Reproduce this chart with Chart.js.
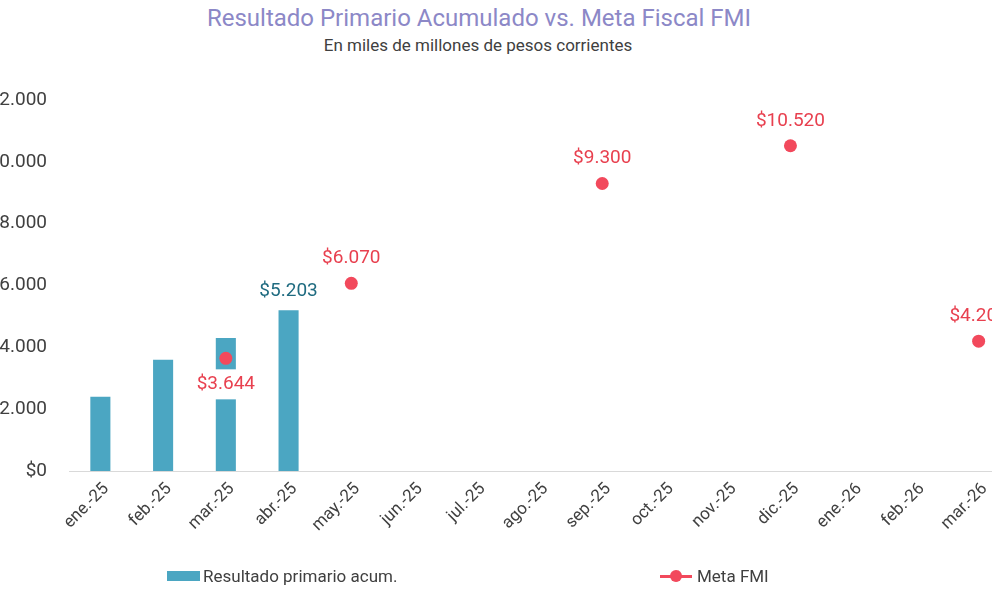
<!DOCTYPE html>
<html>
<head>
<meta charset="utf-8">
<script src="https://cdn.jsdelivr.net/npm/chart.js@4/dist/chart.umd.min.js"></script>
<style>
  body { margin: 0; width: 992px; height: 606px; overflow: hidden; background: #fff; font-family: Roboto, "Noto Sans", sans-serif; position: relative; }
  #title { position: absolute; top: 4px; left: 0; width: 958px; text-align: center; font-size: 24px; color: #8c88c7; }
  #subtitle { position: absolute; top: 35px; left: 0; width: 956px; text-align: center; font-size: 17px; color: #404040; }
  #wrap { position: absolute; left: -40px; top: 0; width: 1070px; height: 606px; }
  .leg { position: absolute; top: 564px; font-size: 17px; color: #404040; white-space: nowrap; }
  .leg span { display: inline-block; vertical-align: middle; }
</style>
</head>
<body>
<div id="title">Resultado Primario Acumulado vs. Meta Fiscal FMI</div>
<div id="subtitle">En miles de millones de pesos corrientes</div>
<div id="wrap"><canvas id="chart" width="1070" height="606"></canvas></div>
<div class="leg" style="left:167px"><span style="width:33px;height:10px;background:#4ba6c2;margin-right:3px"></span><span>Resultado primario acum.</span></div>
<div class="leg" style="left:660px"><span style="position:relative;width:32px;height:12px;margin-right:5px"><span style="position:absolute;left:0;top:5px;width:32px;height:3px;background:#f2495c"></span><span style="position:absolute;left:10px;top:0;width:12px;height:12px;border-radius:6px;background:#f2495c"></span></span><span>Meta FMI</span></div>
<script>
const months = ['ene.-25', 'feb.-25', 'mar.-25', 'abr.-25', 'may.-25', 'jun.-25', 'jul.-25', 'ago.-25',
                'sep.-25', 'oct.-25', 'nov.-25', 'dic.-25', 'ene.-26', 'feb.-26', 'mar.-26'];
const resultado = [2400, 3600, 4300, 5203, null, null, null, null, null, null, null, null, null, null, null];
const metaFMI = [null, null, 3644, null, 6070, null, null, null, 9300, null, null, 10520, null, null, 4200];
const barLabelIdx = [3];

function fmt(v) {
    return '$' + String(v).replace(/\B(?=(\d{3})+(?!\d))/g, '.');
}

// draws the value labels next to the bars and dots
const valueLabels = {
    id: 'valueLabels',
    afterDatasetsDraw(chart) {
        const ctx = chart.ctx;
        ctx.save();
        ctx.font = '19px Roboto, "Noto Sans", sans-serif';
        ctx.textAlign = 'center';
        ctx.textBaseline = 'middle';

        const lineMeta = chart.getDatasetMeta(0);
        lineMeta.data.forEach((pt, i) => {
            const v = metaFMI[i];
            if (v == null) return;
            const text = fmt(v);
            if (i === 2) {
                // label below the dot, white box over the bar
                const w = ctx.measureText(text).width + 4;
                const y = pt.y + 26;
                ctx.fillStyle = '#fff';
                ctx.fillRect(pt.x - w / 2, y - 15, w, 30);
                ctx.fillStyle = '#e8404f';
                ctx.fillText(text, pt.x, y);
            } else {
                ctx.fillStyle = '#e8404f';
                ctx.fillText(text, pt.x, pt.y - 25);
            }
        });

        const barMeta = chart.getDatasetMeta(1);
        barLabelIdx.forEach(i => {
            const bar = barMeta.data[i];
            ctx.fillStyle = '#1f6b80';
            ctx.fillText(fmt(resultado[i]), bar.x, bar.y - 19);
        });
        ctx.restore();
    }
};

new Chart(document.getElementById('chart'), {
    type: 'bar',
    data: {
        labels: months,
        datasets: [
            {
                type: 'line',
                label: 'Meta FMI',
                data: metaFMI,
                showLine: false,
                borderColor: '#f2495c',
                backgroundColor: '#f2495c',
                pointRadius: 6.5,
                pointHoverRadius: 6.5,
                pointBorderWidth: 0,
                order: 0
            },
            {
                label: 'Resultado primario acum.',
                data: resultado,
                backgroundColor: '#4ba6c2',
                categoryPercentage: 1,
                barPercentage: 0.32,
                order: 1
            }
        ]
    },
    options: {
        responsive: false,
        animation: false,
        layout: { padding: { top: 100, right: 20, left: 0, bottom: 0 } },
        plugins: {
            legend: { display: false },
            tooltip: { enabled: false }
        },
        scales: {
            x: {
                afterFit: s => { s.height = 135; },
                grid: { display: false, drawTicks: false },
                border: { display: true, color: '#d9d9d9', width: 1 },
                ticks: {
                    color: '#404040',
                    font: { size: 17, family: 'Roboto' },
                    minRotation: 45,
                    maxRotation: 45,
                    padding: 8,
                    labelOffset: 6,
                    autoSkip: false
                }
            },
            y: {
                min: 0,
                max: 12000,
                afterFit: s => { s.width = 109; },
                grid: { display: false, drawTicks: false },
                border: { display: false },
                ticks: {
                    stepSize: 2000,
                    color: '#404040',
                    font: { size: 19, family: 'Roboto' },
                    padding: 22,
                    callback: v => fmt(v)
                }
            }
        }
    },
    plugins: [valueLabels]
});
</script>
</body>
</html>
